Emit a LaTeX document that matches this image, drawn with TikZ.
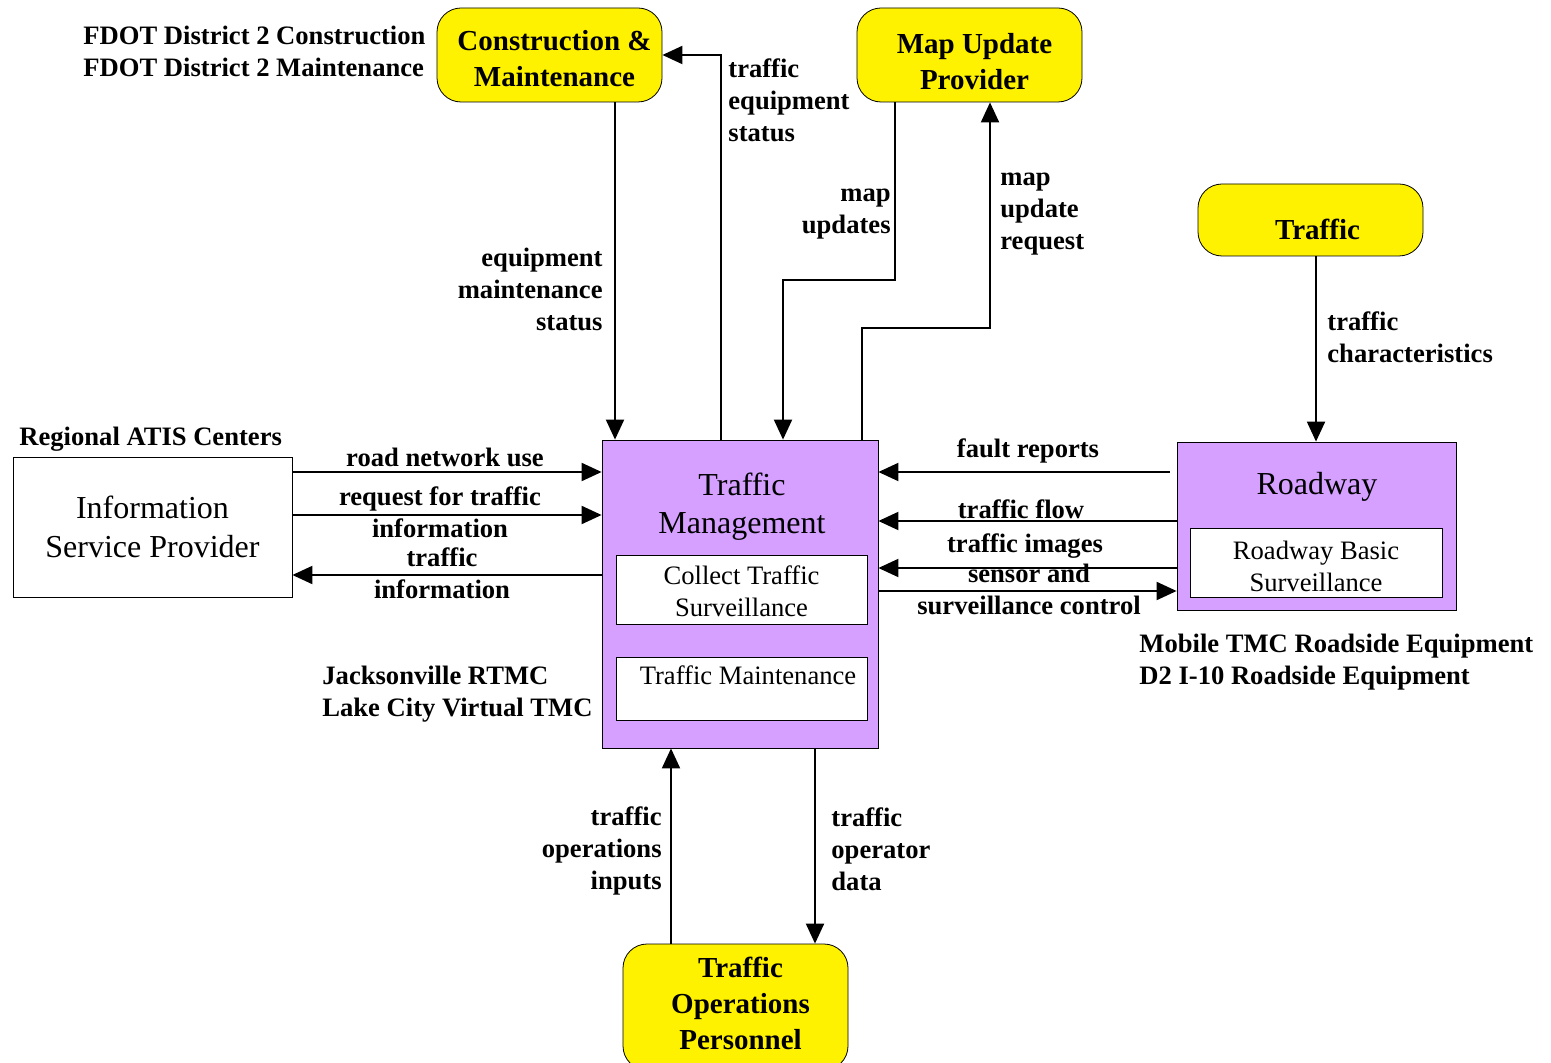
\documentclass[tikz,border=0pt]{standalone}
\usepackage{fontspec}
\setmainfont{Liberation Serif}
\usetikzlibrary{arrows.meta}
\definecolor{tmpurple}{RGB}{213,160,255}
\newcommand{\lblfont}{\fontsize{13.3}{16}\selectfont\bfseries}
\newcommand{\pushdown}[2]{\raisebox{0pt}[\dimexpr\height+#1\relax]{#2}}
\newcommand{\pushup}[2]{\raisebox{0pt}[\height][\dimexpr\depth+#1\relax]{#2}}
\tikzset{
	term/.style={draw, fill=yellow, rounded corners=12pt, minimum width=112.5pt, align=center, inner sep=0pt, font=\fontsize{14.5}{18}\selectfont\bfseries},
	subsys/.style={draw, fill=tmpurple, inner sep=0pt},
	pkg/.style={draw, fill=white, inner sep=0pt, align=center, font=\fontsize{13.3}{16}\selectfont},
	flowlbl/.style={font=\lblfont, inner sep=0pt},
	flow/.style={line width=1pt, -{Triangle[length=10pt,width=9pt]}}
}

\begin{document}
\begin{tikzpicture}[x=0.5pt,y=-0.5pt]
	\clip (0,0) rectangle (1551,1063);
	% terminators
	\node[term, minimum height=47pt] (cm) at (549.5,55) {\pushdown{4pt}{\hspace{5pt}Construction \&}\\\hspace{5pt}Maintenance};
	\node[term, minimum height=47pt] (mu) at (969.5,55) {\pushdown{7pt}{\hspace{5pt}Map Update}\\\hspace{5pt}Provider};
	\node[term, minimum height=36pt] (trf) at (1310.5,220) {\pushdown{9pt}{\hspace{7pt}Traffic}};
	\node[term, minimum height=63pt] (top) at (735.5,1007) {\hspace{5pt}Traffic\\\hspace{5pt}Operations\\\pushup{4pt}{\hspace{5pt}Personnel}};
	% subsystems
	\node[subsys, minimum width=138pt, minimum height=154pt] (tm) at (740,594) {};
	\node[font=\fontsize{16}{19}\selectfont, align=center] (tmtitle) at (742,507) {Traffic\\Management};
	\node[pkg, minimum width=125.5pt, minimum height=34.5pt] (cts) at (741.5,589.5) {\pushdown{2pt}{Collect Traffic}\\Surveillance};
	\node[pkg, minimum width=125.5pt, minimum height=31.5pt] (tmaint) at (741.5,688.5) {};
	\node[font=\fontsize{13.3}{16}\selectfont] (tmainttxt) at (748,675) {Traffic Maintenance};
	\node[subsys, minimum width=139.5pt, minimum height=84pt] (rw) at (1316.5,526) {};
	\node[font=\fontsize{16}{19}\selectfont] (rwtitle) at (1317,487) {Roadway};
	\node[pkg, minimum width=126pt, minimum height=34.5pt] (rbs) at (1316,562.5) {\pushdown{4pt}{Roadway Basic}\\Surveillance};
	\node[draw, fill=white, minimum width=139.5pt, minimum height=70pt, align=center, font=\fontsize{16}{19.5}\selectfont] (isp) at (152.5,527) {Information\\Service Provider};
	% owners
	\node[flowlbl, anchor=west, align=left] (owncm) at (83,51) {FDOT District 2 Construction\\FDOT District 2 Maintenance};
	\node[flowlbl, anchor=west] (ownisp) at (19,439) {Regional ATIS Centers};
	\node[flowlbl, anchor=west, align=left] (owntm) at (322,694) {Jacksonville RTMC\\Lake City Virtual TMC};
	\node[flowlbl, anchor=west, align=left] (ownrw) at (1139,662) {Mobile TMC Roadside Equipment\\D2 I-10 Roadside Equipment};
	% flows
	\draw[flow] (cm.south -| 615,0) -- (tm.north -| 615,0);
	\draw[flow] (tm.north -| 721,0) |- (cm.east);
	\draw[flow] (mu.south -| 895,0) |- (783,280) -- (tm.north -| 783,0);
	\draw[flow] (tm.north -| 862,0) |- (990,328) -- (mu.south -| 990,0);
	\draw[flow] (trf.south -| 1316,0) -- (rw.north -| 1316,0);
	\coordinate (frstart) at (1170,472);
	\draw[flow] (frstart) -- (tm.east |- frstart);
	\draw[flow] (rw.west |- 0,521) -- (tm.east |- 0,521);
	\draw[flow] (rw.west |- 0,568) -- (tm.east |- 0,568);
	\draw[flow] (tm.east |- 0,591) -- (rw.west |- 0,591);
	\draw[flow] (isp.east |- 0,472) -- (tm.west |- 0,472);
	\draw[flow] (isp.east |- 0,515) -- (tm.west |- 0,515);
	\draw[flow] (tm.west |- 0,575) -- (isp.east |- 0,575);
	\draw[flow] (top.north -| 671,0) -- (tm.south -| 671,0);
	\draw[flow] (tm.south -| 815,0) -- (top.north -| 815,0);
	% flow labels
	\node[flowlbl, anchor=east, align=right] (lems) at (603,289) {equipment\\maintenance\\status};
	\node[flowlbl, anchor=west, align=left] (ltes) at (728,100) {traffic\\equipment\\status};
	\node[flowlbl, anchor=east, align=right] (lmu) at (891,214) {map\\updates};
	\node[flowlbl, anchor=west, align=left] (lmur) at (1000,214) {map\\update\\request};
	\node[flowlbl, anchor=west, align=left] (ltc) at (1327,337) {traffic\\characteristics};
	\node[flowlbl] (lfr) at (1028,451) {fault reports};
	\node[flowlbl] (ltf) at (1021,509) {traffic flow};
	\node[flowlbl] (lti) at (1025,546) {traffic images};
	\node[flowlbl, align=center] (lsc) at (1029,589) {sensor and\\surveillance control};
	\node[flowlbl] (lrnu) at (445,457) {road network use};
	\node[flowlbl, align=center] (lrfti) at (440,512) {request for traffic\\information};
	\node[flowlbl, align=center] (ltinfo) at (442,573) {traffic\\information};
	\node[flowlbl, anchor=east, align=right] (ltoi) at (662,851) {traffic\\operations\\inputs};
	\node[flowlbl, anchor=west, align=left] (ltod) at (831,849) {traffic\\operator\\data};
\end{tikzpicture}
\end{document}
